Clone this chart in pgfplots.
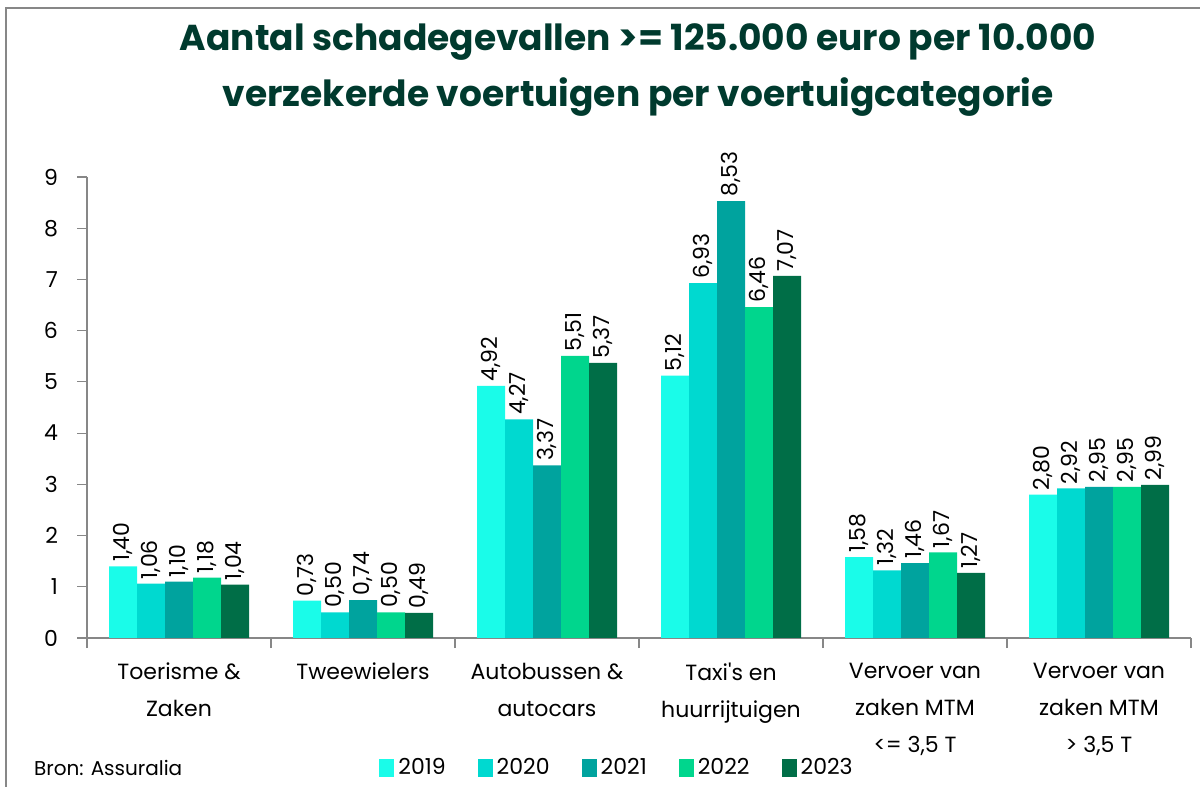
\documentclass[border=0pt]{standalone}
\usepackage{fontspec}
\setmainfont{Poppins}[Ligatures=TeXOff]
\usepackage{pgfplots}
\pgfplotsset{compat=1.18}
\definecolor{c19}{HTML}{1AFCE9}
\definecolor{c20}{HTML}{00D9D0}
\definecolor{c21}{HTML}{00A39E}
\definecolor{c22}{HTML}{00D68D}
\definecolor{c23}{HTML}{006E47}
\definecolor{titlegreen}{HTML}{003A2E}
\definecolor{axisgray}{HTML}{878787}
\begin{document}
\begin{tikzpicture}
\useasboundingbox (0pt,0pt) rectangle (600pt,393.5pt);
% frame remnants
\draw[axisgray,line width=1.2pt] (3pt,0pt) -- (3pt,389.5pt) -- (600pt,389.5pt);
\node[font=\fontsize{18}{21}\selectfont\bfseries,text=titlegreen] at (319pt,372.5pt) {Aantal schadegevallen >= 125.000 euro per 10.000};
\node[font=\fontsize{18}{21}\selectfont\bfseries,text=titlegreen] at (319pt,345pt) {verzekerde voertuigen per voertuigcategorie};
\node[anchor=west,font=\fontsize{10}{12}\selectfont] at (13.5pt,9.5pt) {Bron: Assuralia};
\begin{axis}[
    at={(43.5pt,74.5pt)}, anchor=south west,
    scale only axis, width=552pt, height=230.5pt,
    ybar=0pt, bar width=14pt,
    every axis plot/.append style={draw=none,
      legend image code/.code={\fill[##1] (0pt,-4.5pt) rectangle (7.5pt,4.5pt);}},
    xmin=-0.5, xmax=5.5, ymin=0, ymax=9,
    axis x line*=bottom, axis y line*=left,
    axis line style={axisgray, line width=0.6pt},
    tick style={axisgray, line width=0.6pt},
    tick align=outside,
    major tick length=5pt, minor tick length=5pt,
    ytick={0,1,...,9},
    xtick={0,...,5},
    major x tick style={draw=none},
    minor xtick={-0.5,0.5,...,5.5},
    xticklabels={{Toerisme \&\\Zaken}, {Tweewielers}, {Autobussen \&\\autocars}, {Taxi's en\\huurrijtuigen}, {Vervoer van\\zaken MTM\\<= 3,5 T}, {Vervoer van\\zaken MTM\\> 3,5 T}},
    xticklabel style={align=center, font=\fontsize{11}{18.5}\selectfont, yshift=-4pt},
    yticklabel style={font=\fontsize{11}{13}\selectfont, xshift=-6pt},
    /pgf/number format/assume math mode=true,
    nodes near coords={\pgfmathprintnumber[fixed,fixed zerofill,precision=2,use comma,assume math mode=true]{\pgfplotspointmeta}},
    every node near coord/.append style={rotate=90, anchor=west, font=\fontsize{11}{12}\selectfont, text=black, inner sep=2pt},
    legend columns=5,
    legend style={draw=none, fill=none, at={(0.481,-0.282)}, anchor=center, font=\fontsize{11}{13}\selectfont,
      /tikz/every even column/.append style={column sep=14pt}},
    legend cell align=left,
    clip=false,
]
\addplot[fill=c19] coordinates {(0,1.40) (1,0.73) (2,4.92) (3,5.12) (4,1.58) (5,2.80)};
\addplot[fill=c20] coordinates {(0,1.06) (1,0.50) (2,4.27) (3,6.93) (4,1.32) (5,2.92)};
\addplot[fill=c21] coordinates {(0,1.10) (1,0.74) (2,3.37) (3,8.53) (4,1.46) (5,2.95)};
\addplot[fill=c22] coordinates {(0,1.18) (1,0.50) (2,5.51) (3,6.46) (4,1.67) (5,2.95)};
\addplot[fill=c23] coordinates {(0,1.04) (1,0.49) (2,5.37) (3,7.07) (4,1.27) (5,2.99)};
\legend{2019,2020,2021,2022,2023}
\end{axis}
\end{tikzpicture}
\end{document}
